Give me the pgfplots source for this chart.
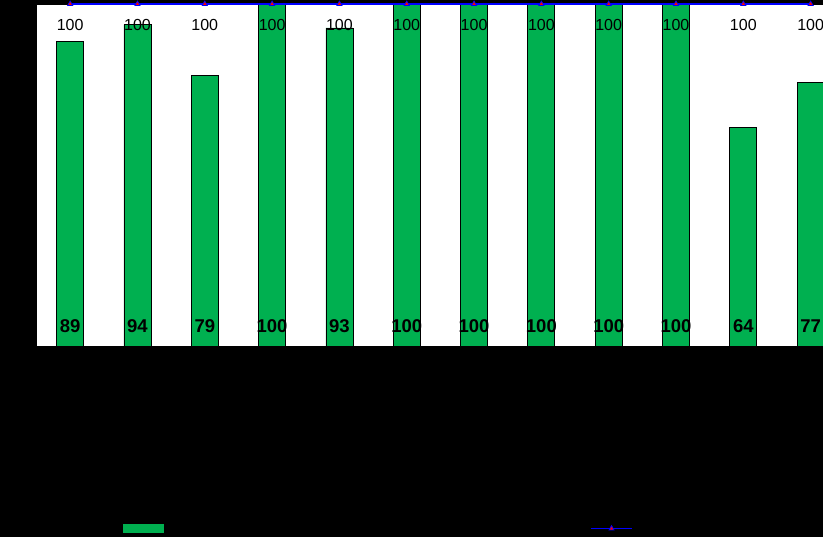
\documentclass[border=0pt]{standalone}
\usepackage{pgfplots}
\pgfplotsset{compat=1.18}
\usepackage{fontspec}
\setmainfont{Liberation Sans}
\definecolor{barg}{HTML}{00B050}
\begin{document}
\begin{tikzpicture}
\useasboundingbox (0pt,0pt) rectangle (823pt,537pt);
\clip (0pt,0pt) rectangle (823pt,537pt);
\fill[black] (0pt,0pt) rectangle (823pt,537pt);
\begin{axis}[
  at={(36.5pt,191pt)}, anchor=south west,
  scale only axis, width=807.8pt, height=342pt,
  xmin=-0.5, xmax=11.5, ymin=0, ymax=100,
  axis background/.style={fill=white},
  axis line style={draw=black},
  ticks=none,
  clip=false,
  /pgf/number format/assume math mode=true,
  legend columns=2,
  legend style={at={(0.1077,-0.5336)}, anchor=west, draw=none, fill=none,
    inner sep=0pt, outer sep=0pt, row sep=0pt,
    nodes={inner sep=0pt, outer sep=0pt},
    /tikz/every even column/.append style={column sep=425pt}},
]
\addplot[ybar, bar width=27pt, fill=barg, draw=black, line width=0.8pt,
  legend image code/.code={\fill[barg] (0pt,-4pt) rectangle (40pt,4pt);}]
  coordinates {(0,89) (1,94) (2,79) (3,100) (4,93) (5,100) (6,100) (7,100) (8,100) (9,100) (10,64) (11,77)};
\addlegendentry{}
\addplot[blue, line width=1.6pt, mark=triangle*, mark size=3pt,
  mark options={draw=blue, fill=red, line width=0.7pt},
  nodes near coords,
  nodes near coords style={anchor=center, yshift=-21.5pt, inner sep=0pt, text=black, font=\fontsize{16}{16}\selectfont},
  legend image code/.code={\draw[blue, line width=1.5pt] (0pt,0pt) -- (41pt,0pt);
     \draw[blue, fill=red, line width=0.7pt] (18pt,-1.5pt) -- (23pt,-1.5pt) -- (20.5pt,3pt) -- cycle;}]
  coordinates {(0,100) (1,100) (2,100) (3,100) (4,100) (5,100) (6,100) (7,100) (8,100) (9,100) (10,100) (11,100)};
\addlegendentry{}
\addplot[draw=none, mark=none, forget plot, point meta=explicit,
  nodes near coords,
  nodes near coords style={anchor=center, yshift=19.7pt, inner sep=0pt, text=black, font=\fontsize{18.5}{18.5}\selectfont\bfseries}]
  coordinates {(0,0) [89] (1,0) [94] (2,0) [79] (3,0) [100] (4,0) [93] (5,0) [100] (6,0) [100] (7,0) [100] (8,0) [100] (9,0) [100] (10,0) [64] (11,0) [77]};
\end{axis}
\end{tikzpicture}
\end{document}
